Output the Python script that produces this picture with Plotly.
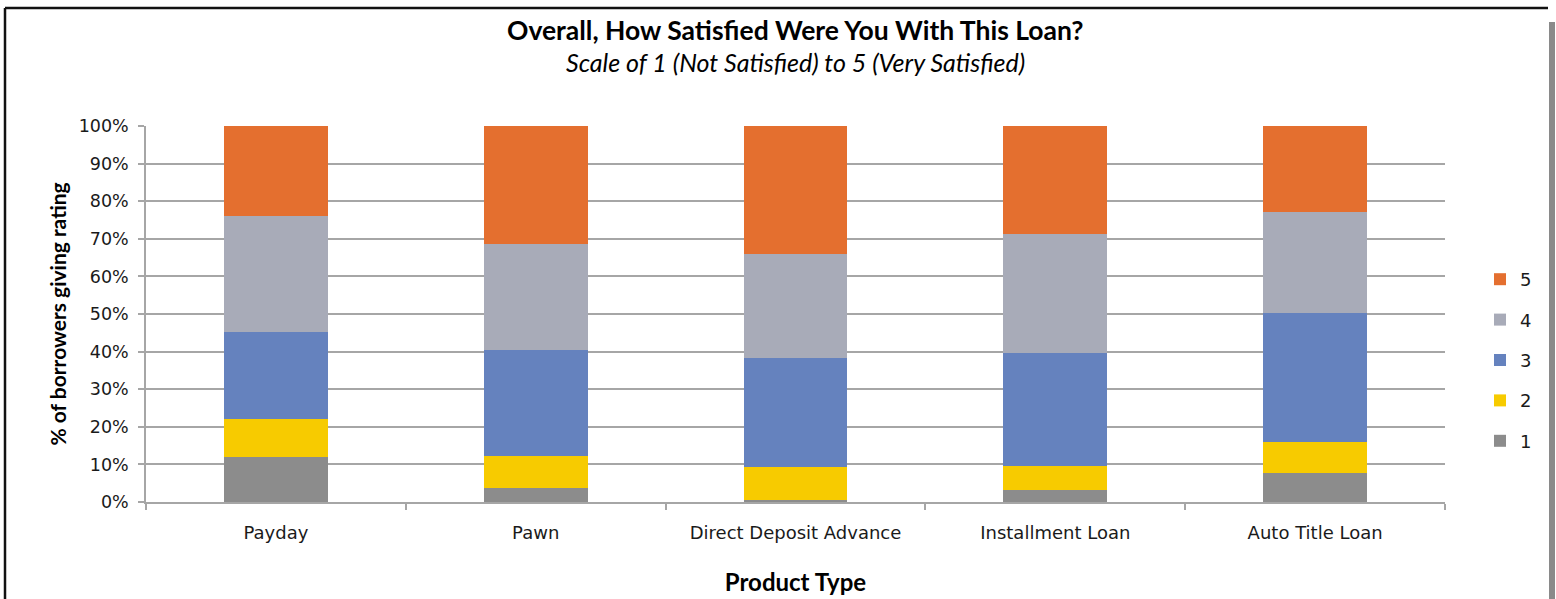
import plotly.graph_objects as go

# Loan satisfaction ratings by product type (share of borrowers, %)
products = ["Payday", "Pawn", "Direct Deposit Advance", "Installment Loan", "Auto Title Loan"]
rating_1 = [12.0, 3.7, 0.5, 3.1, 7.7]
rating_2 = [10.0, 8.5, 8.7, 6.5, 8.3]
rating_3 = [23.3, 28.3, 29.0, 30.1, 34.3]
rating_4 = [30.7, 28.0, 27.7, 31.7, 26.9]
rating_5 = [24.0, 31.5, 34.1, 28.6, 22.8]
y_ticks = [0, 10, 20, 30, 40, 50, 60, 70, 80, 90, 100]
y_tick_labels = ["0%", "10%", "20%", "30%", "40%", "50%", "60%", "70%", "80%", "90%", "100%"]

series = [
    ("1", rating_1, "#8c8c8c"),
    ("2", rating_2, "#f7cb00"),
    ("3", rating_3, "#6582be"),
    ("4", rating_4, "#a8abb8"),
    ("5", rating_5, "#e46f2f"),
]

W, H = 1556, 599
ML, MR, MT, MB = 146, 111, 126, 97
PW, PH = W - ML - MR, H - MT - MB


def px_x(px):
    return (px - ML) / PW


def px_y(py):
    return (H - MB - py) / PH


fig = go.Figure()
for i, (name, vals, color) in enumerate(series):
    fig.add_trace(go.Bar(
        x=products, y=vals, name=name, legendgroup=name,
        legendrank=100 - i,  # highest rating listed first
        marker=dict(color=color, line=dict(width=0)),
        hoverinfo="x+y+name",
    ))

grid_col = "#a6a6a6"
tick_font = dict(family="'DejaVu Sans', sans-serif", color="#1a1a1a")
fig.update_layout(
    width=W, height=H,
    margin=dict(l=ML, r=MR, t=MT, b=MB, autoexpand=False),
    barmode="stack", bargap=0.6,
    paper_bgcolor="white", plot_bgcolor="white",
    font=dict(family="Lato, 'Open Sans', sans-serif", color="#000000"),
    showlegend=True,
    legend=dict(
        x=px_x(1480), y=px_y(261), xanchor="left", yanchor="top",
        traceorder="grouped", tracegroupgap=14,
        font=dict(size=18, **tick_font),
        itemwidth=30, bgcolor="rgba(0,0,0,0)",
    ),
    xaxis=dict(
        type="category", tickson="boundaries", automargin=False,
        ticks="outside", ticklen=6, tickcolor=grid_col, tickwidth=1.5,
        showline=True, linecolor=grid_col, linewidth=1.5,
        showgrid=False, ticklabelstandoff=14,
        tickfont=dict(size=18, **tick_font),
        title=dict(text="<b>Product Type</b>", font=dict(size=24, family="Lato, sans-serif"), standoff=32),
    ),
    yaxis=dict(
        range=[0, 100], tickvals=y_ticks, ticktext=y_tick_labels, automargin=False,
        ticks="outside", ticklen=6, tickcolor=grid_col, tickwidth=1.5,
        showline=True, linecolor=grid_col, linewidth=1.5,
        showgrid=True, gridcolor=grid_col, gridwidth=1.5,
        ticklabelstandoff=6,
        tickfont=dict(size=17.5, **tick_font),
        title=dict(text="<b>% of borrowers giving rating</b>", font=dict(size=21, family="Lato, sans-serif"), standoff=6),
        zeroline=False,
    ),
    annotations=[
        dict(text="<b>Overall, How Satisfied Were You With This Loan?</b>",
             xref="paper", yref="paper", x=0.5, y=px_y(30), xanchor="center", yanchor="middle",
             showarrow=False, font=dict(size=26.5, family="Lato, sans-serif")),
        dict(text="<i>Scale of 1 (Not Satisfied) to 5 (Very Satisfied)</i>",
             xref="paper", yref="paper", x=0.5, y=px_y(62), xanchor="center", yanchor="middle",
             showarrow=False, font=dict(size=25, family="Lato, sans-serif")),
    ],
    shapes=[
        # frame around the chart box
        dict(type="line", xref="paper", yref="paper", x0=px_x(5), x1=px_x(1548), y0=px_y(8), y1=px_y(8),
             line=dict(color="#111111", width=2.5)),
        dict(type="line", xref="paper", yref="paper", x0=px_x(5), x1=px_x(5), y0=px_y(8), y1=px_y(599),
             line=dict(color="#111111", width=2.5)),
        dict(type="line", xref="paper", yref="paper", x0=px_x(1552), x1=px_x(1552), y0=px_y(22), y1=px_y(599),
             line=dict(color="#8a8a8a", width=6)),
    ],
)

fig.write_html("out.html")
